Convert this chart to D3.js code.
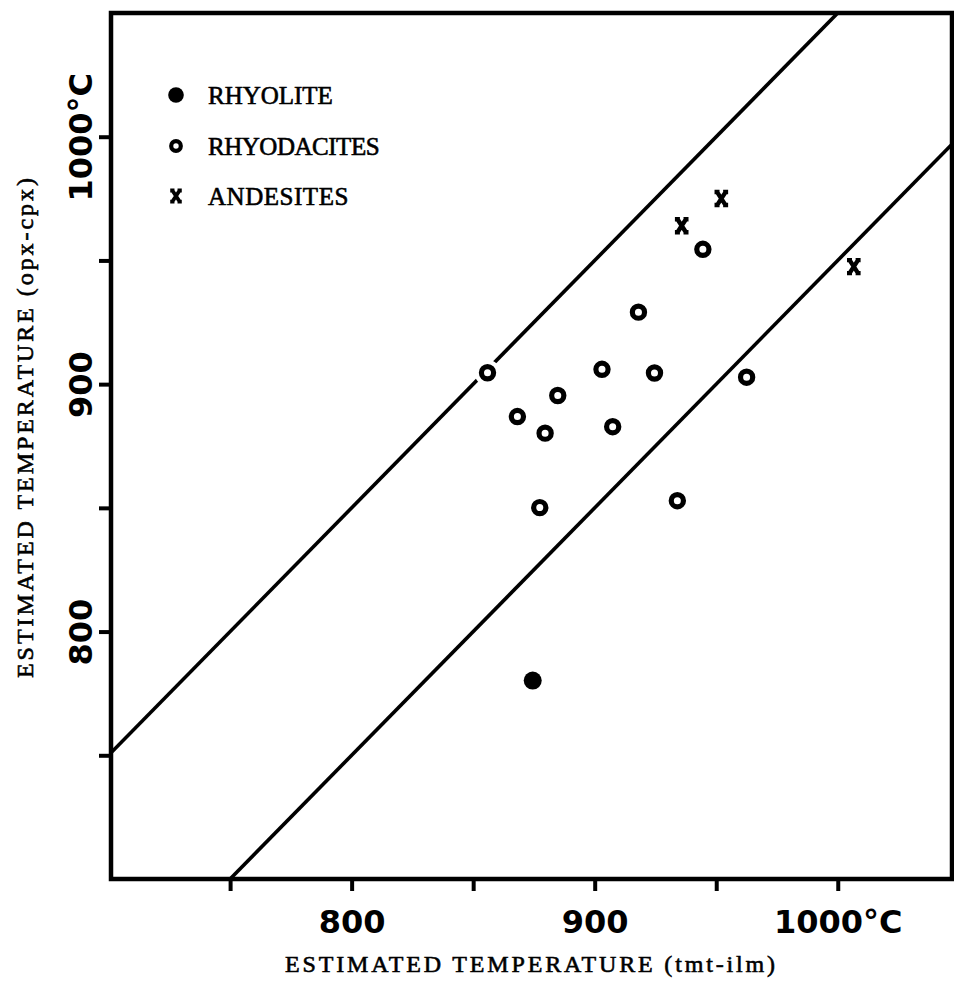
<!DOCTYPE html>
<html>
<head>
<meta charset="utf-8">
<script src="https://cdn.jsdelivr.net/npm/d3@7"></script>
<style>
  html, body { margin: 0; padding: 0; background: #fff; }
  svg { display: block; }
</style>
</head>
<body>
<script>
// ---------- data ----------
const rhyoliteX = [874.5];
const rhyoliteY = [780.2];

const rhyodaciteX = [918.0, 855.9, 903.0, 924.6, 962.5, 884.8, 868.2, 879.6, 907.4, 877.4, 934.0, 944.5];
const rhyodaciteY = [929.1, 904.6, 906.0, 904.5, 902.8, 895.4, 886.9, 880.2, 882.8, 850.1, 852.9, 954.5];

const andesiteX = [952.1, 935.8, 1006.6];
const andesiteY = [975.0, 964.0, 947.5];

const boundOffsets = [50, -50];          // y = x + offset

const xTicks = [750, 800, 850, 900, 950, 1000];
const yTicks = [750, 800, 850, 900, 950, 1000];
const tickLabels = {800: "800", 900: "900", 1000: "1000°C"};

const legendNames = ["RHYOLITE", "RHYODACITES", "ANDESITES"];
const xTitle = "ESTIMATED TEMPERATURE (tmt-ilm)";
const yTitle = "ESTIMATED TEMPERATURE (opx-cpx)";

// ---------- layout ----------
const W = 954, H = 982;
const L = 111, R = 952, T = 13, B = 879;
const x = d3.scaleLinear().domain([701, 1047]).range([L, R]);
const y = d3.scaleLinear().domain([700, 1050]).range([B, T]);

const svg = d3.select("body").append("svg").attr("width", W).attr("height", H);

const serif = "'Liberation Serif', 'DejaVu Serif', serif";
const numFont = "'DejaVu Sans', 'Open Sans', sans-serif";

// clip
svg.append("defs").append("clipPath").attr("id", "plotclip")
  .append("rect").attr("x", L).attr("y", T).attr("width", R - L).attr("height", B - T);

// ---------- boundary lines ----------
const [xd0, xd1] = x.domain(), [yd0, yd1] = y.domain();
const lineG = svg.append("g").attr("clip-path", "url(#plotclip)");
boundOffsets.forEach(c => {
  const xa = Math.max(xd0, yd0 - c), xb = Math.min(xd1, yd1 - c);
  lineG.append("line")
    .attr("x1", x(xa)).attr("y1", y(xa + c))
    .attr("x2", x(xb)).attr("y2", y(xb + c))
    .attr("stroke", "#000").attr("stroke-width", 3.6);
});

// ---------- markers ----------
function xPath(s) {
  const a = 4.2 * s, h = 6.5 * s, f = 6.8 * s, g = 1.8 * s;
  return `M${-a},${-h}L${a},${h}M${a},${-h}L${-a},${h}` +
         `M${-f},${-h}L${-g},${-h}M${g},${-h}L${f},${-h}` +
         `M${-f},${h}L${-g},${h}M${g},${h}L${f},${h}`;
}

const rhyodacites = rhyodaciteX.map((v, i) => ({x: v, y: rhyodaciteY[i]}));
const andesites = andesiteX.map((v, i) => ({x: v, y: andesiteY[i]}));
const rhyolites = rhyoliteX.map((v, i) => ({x: v, y: rhyoliteY[i]}));

const pts = svg.append("g");
// white halos (the printed lines are broken where a circle sits)
pts.selectAll("circle.halo").data(rhyodacites).join("circle")
  .attr("class", "halo")
  .attr("cx", d => x(d.x)).attr("cy", d => y(d.y)).attr("r", 13)
  .attr("fill", "#fff");
pts.selectAll("circle.rd").data(rhyodacites).join("circle")
  .attr("class", "rd")
  .attr("cx", d => x(d.x)).attr("cy", d => y(d.y)).attr("r", 6.1)
  .attr("fill", "none").attr("stroke", "#000").attr("stroke-width", 5.2);
pts.selectAll("circle.rh").data(rhyolites).join("circle")
  .attr("class", "rh")
  .attr("cx", d => x(d.x)).attr("cy", d => y(d.y)).attr("r", 9)
  .attr("fill", "#000");
pts.selectAll("path.an").data(andesites).join("path")
  .attr("class", "an")
  .attr("transform", d => `translate(${x(d.x)},${y(d.y)})`)
  .attr("d", xPath(1))
  .attr("fill", "none").attr("stroke", "#000").attr("stroke-width", 4.4);

// ---------- frame ----------
svg.append("rect")
  .attr("x", L).attr("y", T).attr("width", R - L).attr("height", B - T)
  .attr("fill", "none").attr("stroke", "#000").attr("stroke-width", 4.5);

// ---------- axes ----------
const fmt = d => tickLabels[d] || "";
const gx = svg.append("g").attr("transform", `translate(0,${B})`)
  .call(d3.axisBottom(x).tickValues(xTicks).tickFormat(fmt).tickSize(12).tickPadding(8));
gx.select(".domain").remove();
gx.selectAll(".tick line").attr("stroke", "#000").attr("stroke-width", 4);
gx.selectAll(".tick text")
  .attr("y", 54).attr("dy", 0)
  .attr("font-family", numFont).attr("font-weight", "bold").attr("font-size", 32)
  .attr("fill", "#000");

const gy = svg.append("g").attr("transform", `translate(${L},0)`)
  .call(d3.axisLeft(y).tickValues(yTicks).tickFormat(fmt).tickSize(12).tickPadding(8));
gy.select(".domain").remove();
gy.selectAll(".tick line").attr("stroke", "#000").attr("stroke-width", 4);
gy.selectAll(".tick text")
  .attr("transform", "rotate(-90)")
  .attr("x", 0).attr("y", -19).attr("dy", 0)
  .attr("text-anchor", "middle")
  .attr("font-family", numFont).attr("font-weight", "bold").attr("font-size", 32)
  .attr("fill", "#000");

// ---------- axis titles ----------
svg.append("text")
  .attr("x", 530).attr("y", 972)
  .attr("text-anchor", "middle")
  .attr("font-family", serif).attr("font-size", 24)
  .attr("stroke", "#000").attr("stroke-width", 0.6)
  .attr("textLength", 490).attr("lengthAdjust", "spacing")
  .text(xTitle);

svg.append("text")
  .attr("transform", "translate(33,428) rotate(-90)")
  .attr("text-anchor", "middle")
  .attr("font-family", serif).attr("font-size", 24)
  .attr("stroke", "#000").attr("stroke-width", 0.6)
  .attr("textLength", 500).attr("lengthAdjust", "spacing")
  .text(yTitle);

// ---------- legend ----------
const legY = [95, 146, 196];
const lg = svg.append("g");
lg.append("circle").attr("cx", 176).attr("cy", legY[0]).attr("r", 7.8).attr("fill", "#000");
lg.append("circle").attr("cx", 176).attr("cy", legY[1]).attr("r", 4.8)
  .attr("fill", "none").attr("stroke", "#000").attr("stroke-width", 4.2);
lg.append("path").attr("transform", `translate(176,${legY[2]})`).attr("d", xPath(0.85))
  .attr("fill", "none").attr("stroke", "#000").attr("stroke-width", 3.8);
legendNames.forEach((n, i) => {
  lg.append("text")
    .attr("x", 208).attr("y", legY[i] + 9)
    .attr("font-family", serif).attr("font-size", 25)
    .attr("stroke", "#000").attr("stroke-width", 0.6)
    .attr("textLength", n.length * 15.6).attr("lengthAdjust", "spacing")
    .text(n);
});
</script>
</body>
</html>
